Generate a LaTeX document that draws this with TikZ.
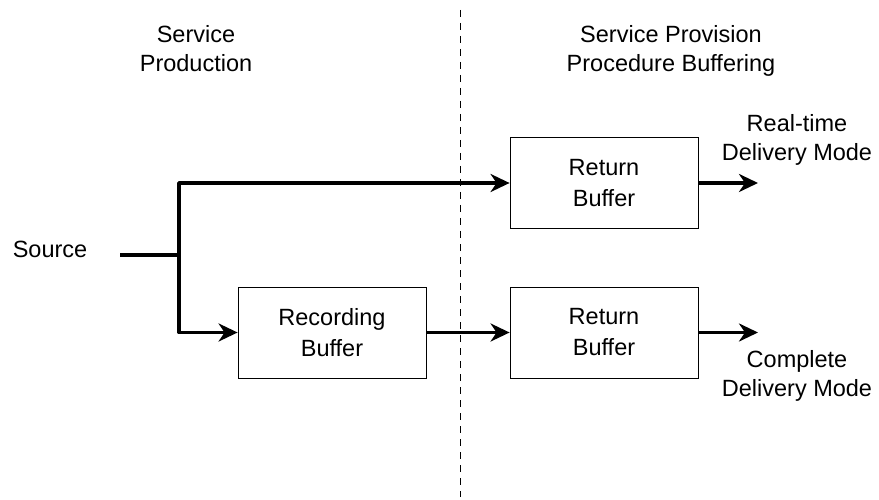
\documentclass[tikz,border=0pt]{standalone}
\usepackage{fontspec}
\setmainfont{Liberation Sans}
\usetikzlibrary{arrows.meta}
\begin{document}
\begin{tikzpicture}[x=1pt,y=-1pt]
			\useasboundingbox (0,0) rectangle (879,500);
			\tikzset{buf/.style={draw, line width=0.8pt, minimum width=188pt, minimum height=91pt, align=center, font=\fontsize{23.5}{31}\selectfont},
				lbl/.style={align=center, font=\fontsize{23.5}{29}\selectfont},
				flow/.style={line width=3.8pt, -{Stealth[length=19pt,width=18pt,inset=6pt]}}}
			\draw[dashed, line width=0.9pt, dash pattern=on 7pt off 6pt] (460,10) -- (460,497);
			\node[lbl] (prod) at (196,49){Service\\Production};
			\node[lbl] (prov) at (671,51){Service Provision\\Procedure Buffering};
			\node[lbl] (src) at (50,249){Source};
			\node[buf] (rec) at (332,332.5){Recording\\Buffer};
			\node[buf] (ret1) at (604,183){Return\\Buffer};
			\node[buf] (ret2) at (604,332.5){Return\\Buffer};
			\coordinate (s0) at (120,255);
			\coordinate (fork) at (179,255);
			\coordinate (o1) at (758,183);
			\coordinate (o2) at (758,332.5);
			\node[lbl] (rt) at (797,140){Real-time\\Delivery Mode};
			\node[lbl] (cd) at (797,376){Complete\\Delivery Mode};
			\draw[line width=3.8pt] (s0) -- (fork);
			\draw[flow, line join=round] (fork) -- (fork |- ret1) -- (ret1.west);
			\draw[flow, line join=round] (fork) -- (fork |- rec) -- (rec.west);
			\draw[flow] (rec.east) -- (ret2.west);
			\draw[flow] (ret1.east) -- (o1);
			\draw[flow] (ret2.east) -- (o2);
		\end{tikzpicture}
\end{document}
